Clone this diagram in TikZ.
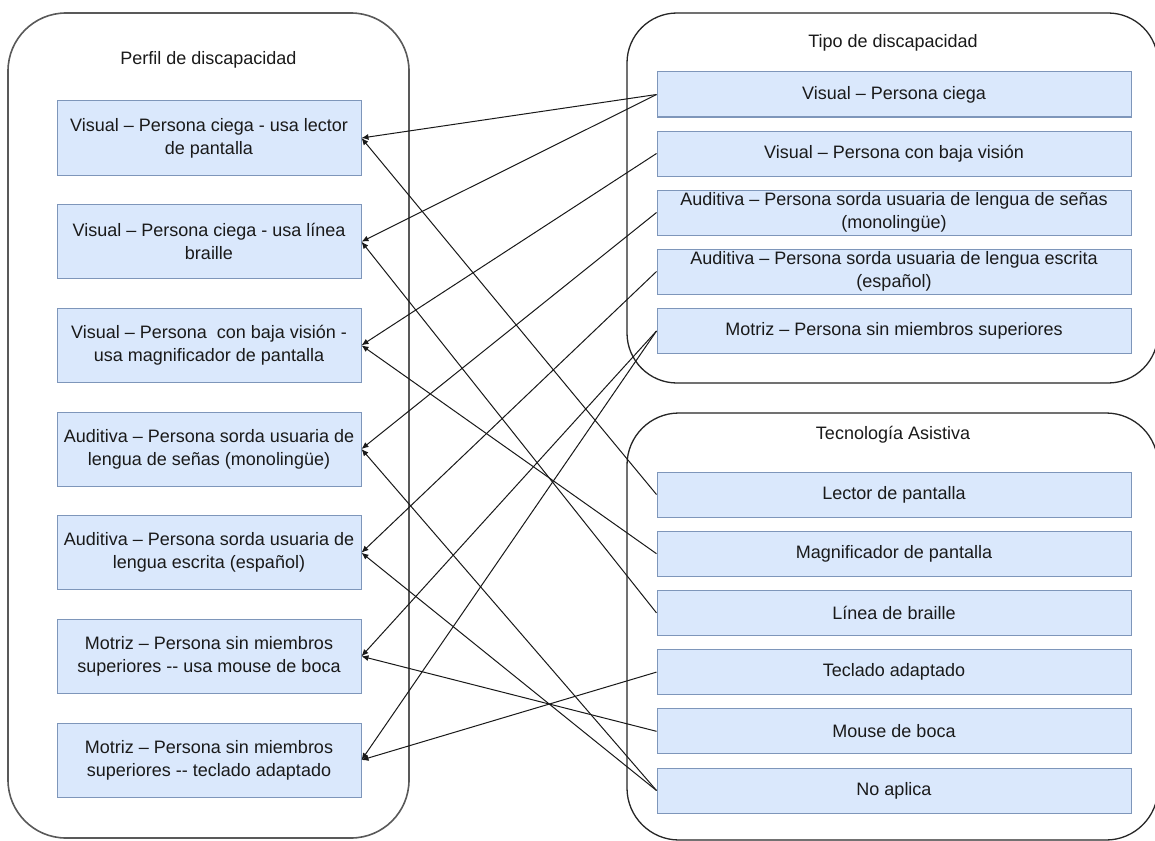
\documentclass[tikz,border=0pt]{standalone}
\usepackage{fontspec}
\setmainfont{Liberation Sans}
\usetikzlibrary{arrows.meta}
\definecolor{boxfill}{HTML}{DAE8FC}
\definecolor{boxline}{HTML}{7E96BA}
\definecolor{txt}{HTML}{1A1A1A}
\begin{document}
\begin{tikzpicture}[x=1pt,y=-1pt,
  every node/.style={font=\fontsize{18}{23}\selectfont, text=txt},
  container/.style={draw=black!85, line width=1.3pt, rounded corners=#1, inner sep=0pt},
  container/.default=50pt,
  lbox/.style={draw=boxline, fill=boxfill, line width=1pt, minimum width=304pt, minimum height=74pt, align=center, inner sep=0pt},
  rbox/.style={draw=boxline, fill=boxfill, line width=1pt, minimum width=474pt, minimum height=45pt, align=center, inner sep=0pt},
  link/.style={draw=black!90, line width=1pt, -{Latex[length=7pt,width=6pt]}}
]
\useasboundingbox (0,0) rectangle (1155,840);
\fill[white] (0,0) rectangle (1155,840);

% containers
\node[container=58pt, draw=black!65, line width=1.6pt, minimum width=401pt, minimum height=825pt] (P) at (208.5,425.5) {};
\node[container=50pt, minimum width=531pt, minimum height=370pt] (T) at (892.5,198) {};
\node[container=52pt, minimum width=531pt, minimum height=427pt] (A) at (892.5,626.5) {};

% titles
\node (Ptitle) at (208.5,60) {Perfil de discapacidad};
\node (Ttitle) at (893,43) {Tipo de discapacidad};
\node (Atitle) at (893,435) {Tecnología Asistiva};

% left boxes
\node[lbox] (L1) at (209,138) {Visual – Persona ciega - usa lector\\de pantalla};
\node[lbox] (L2) at (209,241.7) {Visual – Persona ciega - usa línea\\braille};
\node[lbox] (L3) at (209,345.3) {Visual – Persona\ \ con baja visión -\\usa magnificador de pantalla};
\node[lbox] (L4) at (209,449) {Auditiva – Persona sorda usuaria de\\lengua de señas (monolingüe)};
\node[lbox] (L5) at (209,552.7) {Auditiva – Persona sorda usuaria de\\lengua escrita (español)};
\node[lbox] (L6) at (209,656.3) {Motriz – Persona sin miembros\\superiores -{}- usa mouse de boca};
\node[lbox] (L7) at (209,760) {Motriz – Persona sin miembros\\superiores -{}- teclado adaptado};

% right top boxes
\node[rbox] (T1) at (894,94.5) {Visual – Persona ciega};
\node[rbox] (T2) at (894,153.5) {Visual – Persona con baja visión};
\node[rbox] (T3) at (894,212.5) {Auditiva – Persona sorda usuaria de lengua de señas\\(monolingüe)};
\node[rbox] (T4) at (894,271.5) {Auditiva – Persona sorda usuaria de lengua escrita\\(español)};
\node[rbox] (T5) at (894,331) {Motriz – Persona sin miembros superiores};

% right bottom boxes
\node[rbox] (A1) at (894,494.5) {Lector de pantalla};
\node[rbox] (A2) at (894,553.7) {Magnificador de pantalla};
\node[rbox] (A3) at (894,612.9) {Línea de braille};
\node[rbox] (A4) at (894,672.1) {Teclado adaptado};
\node[rbox] (A5) at (894,731.3) {Mouse de boca};
\node[rbox] (A6) at (894,790.5) {No aplica};

% connectors
\draw[link] (T1.west) -- (L1.east);
\draw[link] (A1.west) -- (L1.east);
\draw[link] (T1.west) -- (L2.east);
\draw[link] (A3.west) -- (L2.east);
\draw[link] (T2.west) -- (L3.east);
\draw[link] (A2.west) -- (L3.east);
\draw[link] (T3.west) -- (L4.east);
\draw[link] (A6.west) -- (L4.east);
\draw[link] (T4.west) -- (L5.east);
\draw[link] (A6.west) -- (L5.east);
\draw[link] (T5.west) -- (L6.east);
\draw[link] (A5.west) -- (L6.east);
\draw[link] (T5.west) -- (L7.east);
\draw[link] (A4.west) -- (L7.east);
\end{tikzpicture}
\end{document}
